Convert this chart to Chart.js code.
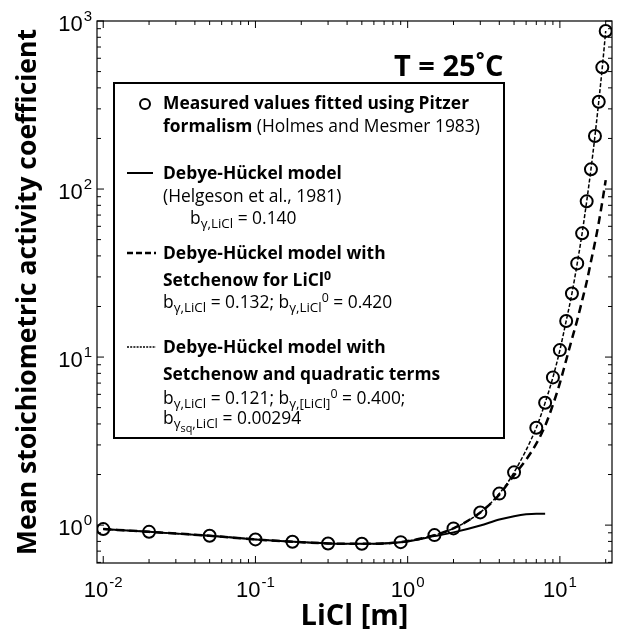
<!DOCTYPE html>
<html>
<head>
<meta charset="utf-8">
<script src="https://cdn.jsdelivr.net/npm/chart.js@4.4.1/dist/chart.umd.min.js"></script>
<style>
  html, body { margin: 0; padding: 0; background: #fff; }
  #wrap { width: 625px; height: 640px; position: relative; }
</style>
</head>
<body>
<div id="wrap"><canvas id="chart"></canvas></div>
<script>
// Measured values (Pitzer fit, Holmes and Mesmer 1983), LiCl molality [m]
const measuredX = [0.01, 0.02, 0.05, 0.1, 0.175, 0.3, 0.5, 0.9, 1.5, 2, 3, 4, 5, 7, 8, 9, 10, 11, 12, 13, 14, 15, 16, 17, 18, 19, 20];
const measuredY = [0.947, 0.912, 0.864, 0.822, 0.796, 0.778, 0.774, 0.792, 0.872, 0.956, 1.19, 1.54, 2.06, 3.8, 5.35, 7.57, 11.0, 16.4, 23.9, 36.1, 54.5, 84.5, 131, 207, 331, 530, 872];

// Debye-Hückel model (Helgeson et al., 1981)
const debyeX = [0.01, 0.02, 0.05, 0.1, 0.175, 0.3, 0.5, 0.9, 1.5, 2, 3, 4, 5, 6, 7, 8];
const debyeY = [0.947, 0.912, 0.864, 0.822, 0.796, 0.778, 0.774, 0.79, 0.86, 0.905, 0.995, 1.08, 1.13, 1.16, 1.17, 1.17];

// Debye-Hückel model with Setchenow for LiCl0
const setchX = [0.01, 0.02, 0.05, 0.1, 0.175, 0.3, 0.5, 0.9, 1.5, 2, 3, 4, 5, 6, 7, 8, 9, 10, 11, 12, 13, 14, 15, 16, 17, 18, 19, 20];
const setchY = [0.947, 0.912, 0.864, 0.822, 0.796, 0.778, 0.774, 0.792, 0.872, 0.956, 1.19, 1.52, 1.98, 2.45, 3.05, 3.9, 5.2, 7.0, 9.6, 12.8, 16.6, 21.7, 28, 37, 48, 63, 84, 113];

// Debye-Hückel model with Setchenow and quadratic terms
const quadX = [0.01, 0.02, 0.05, 0.1, 0.175, 0.3, 0.5, 0.9, 1.5, 2, 3, 4, 5, 7, 8, 9, 10, 11, 12, 13, 14, 15, 16, 17, 18, 19, 20];
const quadY = [0.947, 0.912, 0.864, 0.822, 0.796, 0.778, 0.774, 0.792, 0.872, 0.956, 1.19, 1.54, 2.06, 3.8, 5.35, 7.57, 11.0, 16.4, 23.9, 36.1, 54.5, 84.5, 131, 207, 331, 530, 872];

// Axis ticks (labels are 10 raised to these exponents)
const xMajorTicks = [0.01, 0.1, 1, 10];
const xTickExps = ["-2", "-1", "0", "1"];
const xMinorTicks = [0.02, 0.03, 0.04, 0.05, 0.06, 0.07, 0.08, 0.09, 0.2, 0.3, 0.4, 0.5, 0.6, 0.7, 0.8, 0.9, 2, 3, 4, 5, 6, 7, 8, 9, 20];
const yMajorTicks = [1, 10, 100, 1000];
const yTickExps = ["0", "1", "2", "3"];
const yMinorTicks = [0.6, 0.7, 0.8, 0.9, 2, 3, 4, 5, 6, 7, 8, 9, 20, 30, 40, 50, 60, 70, 80, 90, 200, 300, 400, 500, 600, 700, 800, 900];

const X_MIN = 0.0091;
const X_MAX = 22;
const Y_MIN = 0.595;
const Y_MAX = 1000;

const SANS = '"Open Sans", "Noto Sans", sans-serif';
const HELV = '"Liberation Sans", Arial, sans-serif';

function toPoints(xs, ys) {
  return xs.map((x, i) => ({ x: x, y: ys[i] }));
}

// Draw a line of text made of pieces: n = normal, b = bold, sub / sup / subsub
function drawRich(ctx, x, y, pieces, size) {
  let cx = x;
  pieces.forEach(([text, kind]) => {
    let font = `${size}px ${SANS}`;
    let dy = 0;
    if (kind === "b") font = `bold ${size}px ${SANS}`;
    if (kind === "sub") { font = `${size - 4}px ${SANS}`; dy = 4; }
    if (kind === "subsub") { font = `${size - 6.5}px ${SANS}`; dy = 7.5; }
    if (kind === "sup") { font = `${size - 5}px ${SANS}`; dy = -6; }
    if (kind === "bsup") { font = `bold ${size - 5}px ${SANS}`; dy = -6; }
    ctx.font = font;
    ctx.fillText(text, cx, y + dy);
    cx += ctx.measureText(text).width;
  });
}

// "10" with a raised exponent; returns total width when draw is false
function powerLabel(ctx, x, y, exp, draw) {
  ctx.font = `22px ${HELV}`;
  const wBase = ctx.measureText("10").width;
  ctx.font = `15px ${HELV}`;
  const wExp = ctx.measureText(exp).width;
  if (draw) {
    ctx.font = `22px ${HELV}`;
    ctx.fillText("10", x, y);
    ctx.font = `15px ${HELV}`;
    ctx.fillText(exp, x + wBase + 1, y - 10);
  }
  return wBase + 1 + wExp;
}

const decorPlugin = {
  id: "decor",
  afterDraw(chart) {
    const ctx = chart.ctx;
    const area = chart.chartArea;
    const xs = chart.scales.x;
    const ys = chart.scales.y;
    ctx.save();
    ctx.strokeStyle = "#000";
    ctx.fillStyle = "#000";
    ctx.textBaseline = "alphabetic";
    ctx.textAlign = "left";

    // plot box
    ctx.lineWidth = 1.2;
    ctx.strokeRect(area.left, area.top, area.right - area.left, area.bottom - area.top);

    // inward ticks on all four sides
    const tick = (px, len, vertical) => {
      ctx.beginPath();
      if (vertical) {
        ctx.moveTo(px, area.bottom); ctx.lineTo(px, area.bottom - len);
        ctx.moveTo(px, area.top); ctx.lineTo(px, area.top + len);
      } else {
        ctx.moveTo(area.left, px); ctx.lineTo(area.left + len, px);
        ctx.moveTo(area.right, px); ctx.lineTo(area.right - len, px);
      }
      ctx.stroke();
    };
    ctx.lineWidth = 1;
    xMajorTicks.forEach(v => tick(xs.getPixelForValue(v), 7, true));
    xMinorTicks.forEach(v => tick(xs.getPixelForValue(v), 4, true));
    yMajorTicks.forEach(v => tick(ys.getPixelForValue(v), 7, false));
    yMinorTicks.forEach(v => tick(ys.getPixelForValue(v), 4, false));

    // tick labels
    xMajorTicks.forEach((v, i) => {
      const px = xs.getPixelForValue(v);
      const w = powerLabel(ctx, 0, 0, xTickExps[i], false);
      powerLabel(ctx, px - w / 2, area.bottom + 34, xTickExps[i], true);
    });
    yMajorTicks.forEach((v, i) => {
      const py = ys.getPixelForValue(v);
      const w = powerLabel(ctx, 0, 0, yTickExps[i], false);
      powerLabel(ctx, area.left - 5 - w, py + 10, yTickExps[i], true);
    });

    // temperature label
    ctx.font = `bold 29px ${SANS}`;
    ctx.fillText("T = 25˚C", 394, 76);

    // legend box
    ctx.lineWidth = 2;
    ctx.strokeRect(114, 83, 390, 355);

    // legend symbols
    ctx.lineWidth = 2;
    ctx.beginPath();
    ctx.arc(145, 104, 5, 0, Math.PI * 2);
    ctx.stroke();
    ctx.beginPath();
    ctx.moveTo(127, 173); ctx.lineTo(153, 173);
    ctx.stroke();
    ctx.setLineDash([6, 3]);
    ctx.lineWidth = 2.5;
    ctx.beginPath();
    ctx.moveTo(127, 253); ctx.lineTo(156, 253);
    ctx.stroke();
    ctx.setLineDash([2, 1.2]);
    ctx.lineWidth = 1.3;
    ctx.beginPath();
    ctx.moveTo(127, 347); ctx.lineTo(156, 347);
    ctx.stroke();
    ctx.setLineDash([]);

    // legend text
    const fs = 17.4;
    drawRich(ctx, 163, 109, [["Measured values fitted using Pitzer", "b"]], fs);
    drawRich(ctx, 163, 132, [["formalism", "b"], [" (Holmes and Mesmer 1983)", "n"]], fs);
    drawRich(ctx, 163, 179, [["Debye-Hückel model", "b"]], fs);
    drawRich(ctx, 163, 202, [["(Helgeson et al., 1981)", "n"]], fs);
    drawRich(ctx, 190, 224, [["b", "n"], ["γ,LiCl", "sub"], [" = 0.140", "n"]], fs);
    drawRich(ctx, 163, 259, [["Debye-Hückel model with", "b"]], fs);
    drawRich(ctx, 163, 286, [["Setchenow for LiCl", "b"], ["0", "bsup"]], fs);
    drawRich(ctx, 163, 308, [["b", "n"], ["γ,LiCl", "sub"], [" = 0.132; b", "n"], ["γ,LiCl", "sub"], ["0", "sup"], [" = 0.420", "n"]], fs);
    drawRich(ctx, 163, 353, [["Debye-Hückel model with", "b"]], fs);
    drawRich(ctx, 163, 380, [["Setchenow and quadratic terms", "b"]], fs);
    drawRich(ctx, 163, 404, [["b", "n"], ["γ,LiCl", "sub"], [" = 0.121; b", "n"], ["γ,[LiCl]", "sub"], ["0", "sup"], [" = 0.400;", "n"]], fs);
    drawRich(ctx, 163, 424, [["b", "n"], ["γ", "sub"], ["sq", "subsub"], [",LiCl", "sub"], [" = 0.00294", "n"]], fs);

    ctx.restore();
  }
};

const lineBase = {
  showLine: true,
  pointRadius: 0,
  borderColor: "#000",
  fill: false,
  cubicInterpolationMode: "monotone",
};

new Chart(document.getElementById("chart"), {
  type: "scatter",
  data: {
    datasets: [
      {
        label: "Measured values fitted using Pitzer formalism",
        data: toPoints(measuredX, measuredY),
        showLine: false,
        pointRadius: 6,
        pointBorderWidth: 2,
        pointBorderColor: "#000",
        pointBackgroundColor: "rgba(0,0,0,0)",
      },
      Object.assign({}, lineBase, {
        label: "Debye-Hückel model",
        data: toPoints(debyeX, debyeY),
        borderWidth: 2,
      }),
      Object.assign({}, lineBase, {
        label: "Debye-Hückel model with Setchenow for LiCl0",
        data: toPoints(setchX, setchY),
        borderWidth: 2.5,
        borderDash: [8, 5],
      }),
      Object.assign({}, lineBase, {
        label: "Debye-Hückel model with Setchenow and quadratic terms",
        data: toPoints(quadX, quadY),
        borderWidth: 1.5,
        borderDash: [4, 2],
      }),
    ],
  },
  options: {
    responsive: true,
    maintainAspectRatio: false,
    animation: false,
    layout: { padding: { top: 21, right: 13, left: 0, bottom: 0 } },
    plugins: {
      legend: { display: false },
      tooltip: { enabled: false },
    },
    scales: {
      x: {
        type: "logarithmic",
        min: X_MIN,
        max: X_MAX,
        grid: { display: false, drawTicks: false },
        border: { display: false },
        afterFit: (scale) => { scale.height = 77; },
        ticks: { display: false },
        title: {
          display: true,
          text: "LiCl [m]",
          color: "#000",
          font: { family: SANS, size: 29, weight: "bold" },
          padding: { top: 0, bottom: 6 },
        },
      },
      y: {
        type: "logarithmic",
        min: Y_MIN,
        max: Y_MAX,
        grid: { display: false, drawTicks: false },
        border: { display: false },
        afterFit: (scale) => { scale.width = 97; },
        ticks: { display: false },
        title: {
          display: true,
          text: "Mean stoichiometric activity coefficient",
          color: "#000",
          font: { family: SANS, size: 26.5, weight: "bold" },
          padding: { top: 13, bottom: 0 },
        },
      },
    },
  },
  plugins: [decorPlugin],
});
</script>
</body>
</html>
